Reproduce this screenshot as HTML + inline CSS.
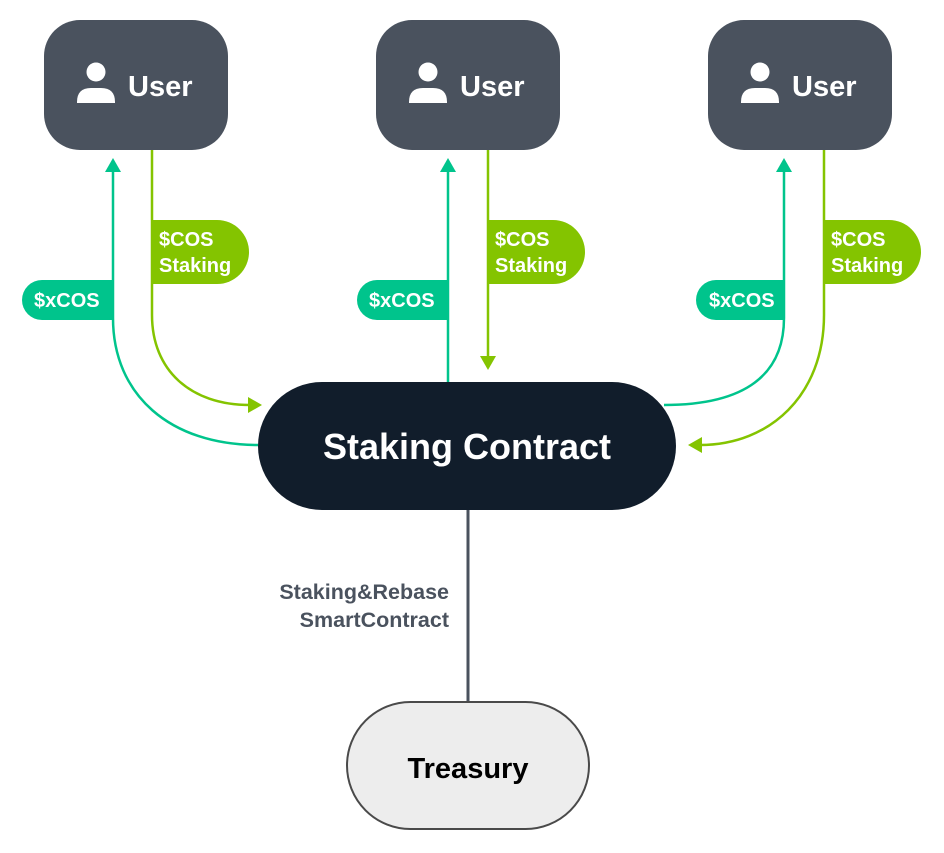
<!DOCTYPE html>
<html><head><style>
body{margin:0;background:#fff;width:944px;height:848px;overflow:hidden}
svg text{font-family:"Liberation Sans",sans-serif;font-weight:bold}
</style></head><body>
<svg width="944" height="848" viewBox="0 0 944 848" xmlns="http://www.w3.org/2000/svg">
<defs>
<g id="user">
<rect x="0" y="0" width="184" height="130" rx="36" fill="#4a525e"/>
<circle cx="52" cy="52" r="9.5" fill="#fff"/>
<path d="M33 82 Q33 68 47 68 L57 68 Q71 68 71 82 L71 83 L33 83 Z" fill="#fff"/>
<text x="84" y="76" font-size="29" fill="#fff">User</text>
</g>
</defs>
<use href="#user" x="44" y="20"/>
<use href="#user" x="376" y="20"/>
<use href="#user" x="708" y="20"/>

<!-- left -->
<path d="M113 170 L113 318 C113 395 170 445 258 445" fill="none" stroke="#00c48c" stroke-width="2.5"/>
<polygon points="105,172 121,172 113,158" fill="#00c48c"/>
<path d="M152 150 L152 315 C152 370 190 405 250 405" fill="none" stroke="#84c400" stroke-width="2.5"/>
<polygon points="248,397 248,413 262,405" fill="#84c400"/>
<path d="M42 280 L113 280 L113 320 L42 320 A20 20 0 0 1 42 280Z" fill="#00c48c"/>
<text x="34" y="307" font-size="20" fill="#fff">$xCOS</text>
<path d="M152 220 L217 220 A32 32 0 0 1 217 284 L152 284Z" fill="#84c400"/>
<text x="159" y="246" font-size="20" fill="#fff">$COS</text>
<text x="159" y="272" font-size="20" fill="#fff">Staking</text>

<!-- middle -->
<path d="M448 382 L448 170" stroke="#00c48c" stroke-width="2.5"/>
<polygon points="440,172 456,172 448,158" fill="#00c48c"/>
<path d="M488 150 L488 358" stroke="#84c400" stroke-width="2.5"/>
<polygon points="480,356 496,356 488,370" fill="#84c400"/>
<path d="M377 280 L448 280 L448 320 L377 320 A20 20 0 0 1 377 280Z" fill="#00c48c"/>
<text x="369" y="307" font-size="20" fill="#fff">$xCOS</text>
<path d="M488 220 L553 220 A32 32 0 0 1 553 284 L488 284Z" fill="#84c400"/>
<text x="495" y="246" font-size="20" fill="#fff">$COS</text>
<text x="495" y="272" font-size="20" fill="#fff">Staking</text>

<!-- right -->
<path d="M784 170 L784 318 C784 375 745 405 664 405" fill="none" stroke="#00c48c" stroke-width="2.5"/>
<polygon points="776,172 792,172 784,158" fill="#00c48c"/>
<path d="M824 150 L824 315 C824 395 770 445 700 445" fill="none" stroke="#84c400" stroke-width="2.5"/>
<polygon points="702,437 702,453 688,445" fill="#84c400"/>
<path d="M716 280 L784 280 L784 320 L716 320 A20 20 0 0 1 716 280Z" fill="#00c48c"/>
<text x="709" y="307" font-size="20" fill="#fff">$xCOS</text>
<path d="M824 220 L889 220 A32 32 0 0 1 889 284 L824 284Z" fill="#84c400"/>
<text x="831" y="246" font-size="20" fill="#fff">$COS</text>
<text x="831" y="272" font-size="20" fill="#fff">Staking</text>

<!-- staking contract -->
<rect x="258" y="382" width="418" height="128" rx="64" fill="#111d2b"/>
<text x="467" y="459" font-size="36" fill="#fff" text-anchor="middle">Staking Contract</text>

<path d="M468 510 L468 702" stroke="#4a525e" stroke-width="3"/>
<text x="449" y="599" font-size="21.5" fill="#4a525e" text-anchor="end">Staking&amp;Rebase</text>
<text x="449" y="627" font-size="21.5" fill="#4a525e" text-anchor="end">SmartContract</text>

<rect x="347" y="702" width="242" height="127" rx="63.5" fill="#ededed" stroke="#4a4a4a" stroke-width="2"/>
<text x="468" y="778" font-size="29" fill="#000" text-anchor="middle">Treasury</text>
</svg>
</body></html>
